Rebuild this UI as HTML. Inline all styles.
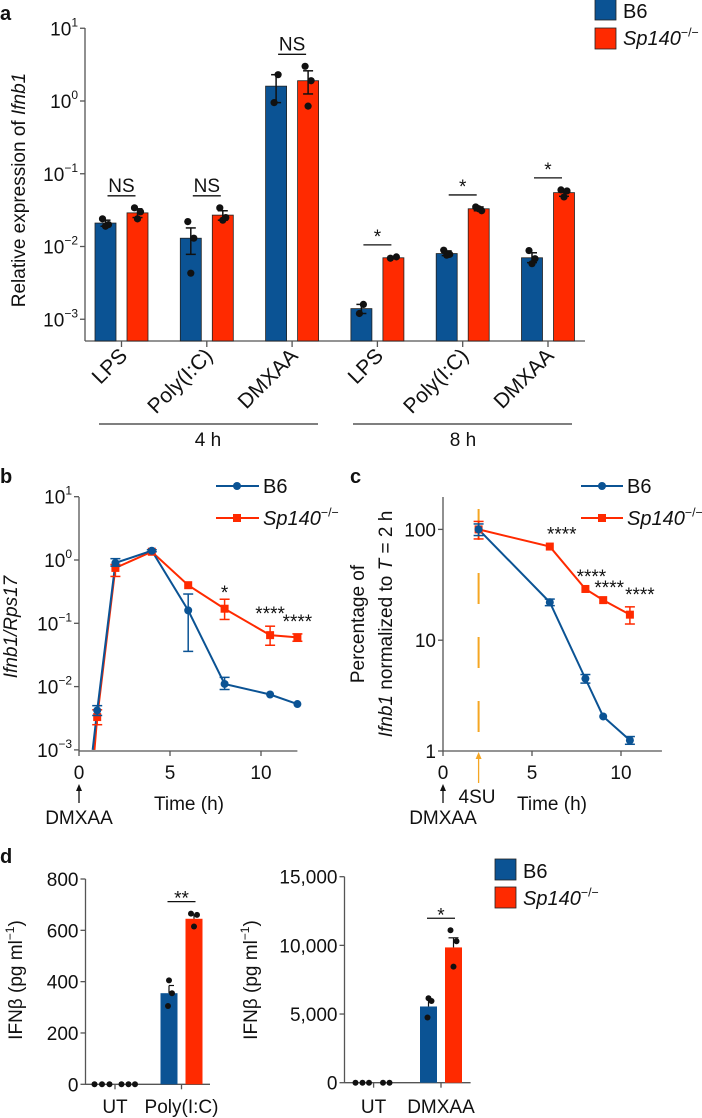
<!DOCTYPE html>
<html><head><meta charset="utf-8">
<style>
html,body{margin:0;padding:0;background:#fff;}
svg{display:block;font-family:"Liberation Sans",Arial,sans-serif;}
text{fill:#111;}
</style></head>
<body>
<svg id="fig" width="702" height="1118" viewBox="0 0 702 1118" xmlns="http://www.w3.org/2000/svg"></svg>
<script>
// ---------- Panel a data ----------
const aCategories = ["LPS","Poly(I:C)","DMXAA","LPS","Poly(I:C)","DMXAA"];
const aB6 = [0.021,0.013,1.6,0.0014,0.008,0.007];
const aSp = [0.029,0.027,1.9,0.007,0.033,0.055];
const aB6Err = [[0.019,0.023],[0.0078,0.018],[0.95,2.3],[0.0012,0.0016],[0.0075,0.0087],[0.006,0.0082]];
const aSpErr = [[0.025,0.033],[0.023,0.031],[1.25,2.6],[0.0068,0.0072],[0.031,0.035],[0.049,0.06]];
const aB6Pts = [[0.024,0.020,0.019],[0.022,0.013,0.0043],[2.3,0.95],[0.0016,0.0012],[0.0089,0.0078,0.0076],[0.0088,0.0068,0.0058]];
const aSpPts = [[0.034,0.030,0.024],[0.034,0.025,0.023],[3.0,1.9,0.85],[0.0069,0.0072],[0.035,0.031,0.033],[0.060,0.058,0.048]];
const aSig = ["NS","NS","NS","*","*","*"];
const aTickLabels = ["10","10","10","10","10"];
const aTickExp = [1,0,-1,-2,-3];
// ---------- Panel b data ----------
const bTimesB6 = [0.75,1,2,4,6,8,10.5,12];
const bB6 = [0.001,0.0042,0.9,1.4,0.16,0.011,0.0075,0.0053];
const bB6Lo = [null,0.0035,0.8,1.35,0.036,0.009,null,null];
const bB6Hi = [null,0.005,1.05,1.45,0.29,0.014,null,null];
const bTimesSp = [0.85,1,2,4,6,8,10.5,12];
const bSp = [0.001,0.0033,0.75,1.35,0.4,0.17,0.065,0.06];
const bSpLo = [null,0.0025,0.55,null,null,0.115,0.045,0.052];
const bSpHi = [null,0.0043,0.85,null,null,0.24,0.09,0.068];
const bStars = [[8,"*"],[10.5,"****"],[12,"****"]];
const bXTicks = [0,5,10];
// ---------- Panel c data ----------
const cTimes = [2,6,8,9,10.5];
const cB6 = [100,22,4.5,2.05,1.25];
const cB6Lo = [88,20.5,4.1,null,1.15];
const cB6Hi = [112,23.5,4.9,null,1.35];
const cSp = [100,70,29,23,17];
const cSpLo = [82,null,null,null,14];
const cSpHi = [118,null,null,null,20];
const cStars = ["****","****","****","****"];
const cYTicks = [1,10,100];
const cXTicks = [0,5,10];
// ---------- Panel d data ----------
const d1Cats = ["UT","Poly(I:C)"];
const d1B6 = [0,355];
const d1Sp = [0,645];
const d1B6Err = [0,30];
const d1SpErr = [0,15];
const d1B6Pts = [[0,0,0],[405,355,305]];
const d1SpPts = [[0,0,0],[665,660,615]];
const d1Ticks = [0,200,400,600,800];
const d2Cats = ["UT","DMXAA"];
const d2B6 = [0,5550];
const d2Sp = [0,9850];
const d2B6Err = [0,400];
const d2SpErr = [0,700];
const d2B6Pts = [[0,0,0],[6150,5950,4750]];
const d2SpPts = [[0,0],[11100,10300,8450]];
const d2Ticks = [0,5000,10000,15000];
const d2TickLabels = ["0","5,000","10,000","15,000"];

const BLUE="#0b5394", RED="#ff2a00", AX="#555", ORANGE="#f5a623";
const F=19;
const svg=document.getElementById('fig');
const NS='http://www.w3.org/2000/svg';
function el(tag,attrs,parent){const e=document.createElementNS(NS,tag);for(const k in attrs)e.setAttribute(k,attrs[k]);(parent||svg).appendChild(e);return e;}
function txt(x,y,s,attrs,parent){const e=el('text',Object.assign({x:x,y:y},attrs||{}),parent);e.textContent=s;return e;}
function line(x1,y1,x2,y2,stroke,w,parent){return el('line',{x1:x1,y1:y1,x2:x2,y2:y2,stroke:stroke,'stroke-width':w||1},parent);}
function errbar(g,x,y1,y2,color,cap){line(x,y1,x,y2,color,1.5,g);line(x-cap,y1,x+cap,y1,color,1.5,g);line(x-cap,y2,x+cap,y2,color,1.5,g);}
function spLabel(g,x,y,size,anchor){const t=el('text',{x:x,y:y,'font-size':size,'text-anchor':anchor||'start'},g);const a=el('tspan',{'font-style':'italic'},t);a.textContent='Sp140';const b=el('tspan',{'font-size':size*0.62,dy:-size*0.42},t);b.textContent='−/−';return t;}
function powLabel(g,x,y,e){const t=el('text',{x:x,y:y,'font-size':F,'text-anchor':'end'},g);
 const s=el('tspan',{},t);s.textContent='10';
 const p=el('tspan',{'font-size':12,dy:-9},t);p.textContent=(e<0?'−'+(-e):e);
 return t;}

// ================= Panel a =================
(function(){
const g=el('g',{});


const y0=101, dec=72.75;
const Y=v=>y0-Math.log10(v)*dec;
const axisBottom=341, axX=85, axR=585;
const cx=i=>121.5+i*85.3;
txt(0,20,'a',{'font-size':20,'font-weight':'bold'},g);
line(axX,28,axX,axisBottom,AX,1.3,g);
line(axX,axisBottom,axR,axisBottom,AX,1.3,g);
aTickExp.forEach((e,i)=>{const y=Y(Math.pow(10,e));line(axX-5,y,axX,y,AX,1.3,g);powLabel(g,axX-7,y+7,e);});
const yl=el('text',{transform:'translate(25,190) rotate(-90)','font-size':F,'text-anchor':'middle'},g);

let s1=el('tspan',{},yl);s1.textContent='Relative expression of ';let s2=el('tspan',{'font-style':'italic'},yl);s2.textContent='Ifnb1';
aCategories.forEach((c,i)=>{
 const x=cx(i);line(x,axisBottom,x,axisBottom+6,AX,1.3,g);
 const bx=x-16, rx=x+16, w=21;
 const b=el('rect',{x:bx-w/2,y:Y(aB6[i]),width:w,height:axisBottom-Y(aB6[i]),fill:BLUE,stroke:'#222','stroke-width':0.8},g);
 
 const r=el('rect',{x:rx-w/2,y:Y(aSp[i]),width:w,height:axisBottom-Y(aSp[i]),fill:RED,stroke:'#222','stroke-width':0.8},g);
 
 errbar(g,bx,Y(aB6Err[i][0]),Y(aB6Err[i][1]),'#111',5);
 errbar(g,rx,Y(aSpErr[i][0]),Y(aSpErr[i][1]),'#111',5);
 const offs=[-3,3,0];
 aB6Pts[i].forEach((v,j)=>el('circle',{cx:bx+(aB6Pts[i].length==2?(j?-2:2):offs[j]),cy:Y(v),r:3.6,fill:'#111'},g));
 aSpPts[i].forEach((v,j)=>el('circle',{cx:rx+(aSpPts[i].length==2?(j?3:-3):offs[j]),cy:Y(v),r:3.6,fill:'#111'},g));
 const top=Math.min(Y(aB6Err[i][1]),Y(aSpErr[i][1]),Y(Math.max(...aB6Pts[i])),Y(Math.max(...aSpPts[i])));
 const ly=top-12;
 line(x-14,ly,x+14,ly,'#111',1.3,g);
 if(aSig[i]==='NS') txt(x,ly-4,'NS',{'font-size':F,'text-anchor':'middle'},g);
 else txt(x,ly-2,'*',{'font-size':F,'text-anchor':'middle'},g);
 const lab=txt(x+7,357,c,{'font-size':21,'text-anchor':'end',transform:`rotate(-45 ${x+7} 357)`},g);
 
});
line(99,424,318,424,'#333',1.3,g);line(353,424,572,424,'#333',1.3,g);
txt(208,446,'4 h',{'font-size':F,'text-anchor':'middle'},g);
txt(463,446,'8 h',{'font-size':F,'text-anchor':'middle'},g);
const lg=el('g',{},g);
el('rect',{x:595,y:-1,width:21,height:21,fill:BLUE,stroke:'#222','stroke-width':0.8},lg);
el('rect',{x:595,y:28,width:21,height:21,fill:RED,stroke:'#222','stroke-width':0.8},lg);
txt(623,18,'B6',{'font-size':20},lg);
spLabel(lg,623,45,20);
})();

// ================= Panel b =================
(function(){
const g=el('g',{});


const y0=560, dec=63.3, x0=79, sx=18.2;
const Y=v=>y0-Math.log10(v)*dec, X=t=>x0+t*sx;
txt(0,483,'b',{'font-size':20,'font-weight':'bold'},g);
line(x0,497,x0,751,AX,1.3,g);line(x0,751,X(12),751,AX,1.3,g);
[1,0,-1,-2,-3].forEach(e=>{const y=Y(Math.pow(10,e));line(x0-5,y,x0,y,AX,1.3,g);powLabel(g,x0-7,y+7,e);});
bXTicks.forEach(t=>{line(X(t),751,X(t),756,AX,1.3,g);txt(X(t),779,String(t),{'font-size':F,'text-anchor':'middle'},g);});
const yl=el('text',{transform:'translate(17,627) rotate(-90)','font-size':F,'text-anchor':'middle','font-style':'italic'},g);
yl.textContent='Ifnb1/Rps17';
const pb=bTimesB6.map((t,i)=>X(t)+','+Y(bB6[i])).join(' ');
const ps=bTimesSp.map((t,i)=>X(t)+','+Y(bSp[i])).join(' ');
const l2=el('polyline',{points:ps,fill:'none',stroke:RED,'stroke-width':2},g);
const l1=el('polyline',{points:pb,fill:'none',stroke:BLUE,'stroke-width':2},g);
bTimesSp.forEach((t,i)=>{if(i===0)return;if(bSpLo[i]!=null)errbar(g,X(t),Y(bSpLo[i]),Y(bSpHi[i]),RED,5);el('rect',{x:X(t)-4,y:Y(bSp[i])-4,width:8,height:8,fill:RED},g);});
bTimesB6.forEach((t,i)=>{if(i===0)return;if(bB6Lo[i]!=null)errbar(g,X(t),Y(bB6Lo[i]),Y(bB6Hi[i]),BLUE,5);el('circle',{cx:X(t),cy:Y(bB6[i]),r:4,fill:BLUE},g);});
bStars.forEach(s=>{const i=bTimesSp.indexOf(s[0]);const hi=bSpHi[i]||bSp[i];txt(X(s[0]),Y(hi)-4+(s[1]==='*'?4:-2),s[1],{'font-size':F,'text-anchor':'middle'},g);});
const lg=el('g',{},g);
line(216,486,259,486,BLUE,2,lg);el('circle',{cx:237,cy:486,r:4,fill:BLUE},lg);txt(263,493,'B6',{'font-size':20},lg);
line(216,518,259,518,RED,2,lg);el('rect',{x:233,y:514,width:8,height:8,fill:RED},lg);spLabel(lg,263,525,20);
line(x0,803,x0,788,'#111',1.3,g);el('polygon',{points:`${x0-3},791 ${x0+3},791 ${x0},784`,fill:'#111'},g);
txt(x0,824,'DMXAA',{'font-size':F,'text-anchor':'middle'},g);
txt(189,810,'Time (h)',{'font-size':F,'text-anchor':'middle'},g);
})();

// ================= Panel c =================
(function(){
const g=el('g',{});


const y0=751, dec=110.8, x0=443, sx=17.8;
const Y=v=>y0-Math.log10(v)*dec, X=t=>x0+t*sx;
txt(350,483,'c',{'font-size':20,'font-weight':'bold'},g);
line(x0,497,x0,751,AX,1.3,g);line(x0,751,X(12.3),751,AX,1.3,g);
cYTicks.forEach(v=>{const y=Y(v);line(x0-5,y,x0,y,AX,1.3,g);txt(x0-7,y+7,String(v),{'font-size':F,'text-anchor':'end'},g);});
cXTicks.forEach(t=>{line(X(t),751,X(t),756,AX,1.3,g);txt(X(t),779,String(t),{'font-size':F,'text-anchor':'middle'},g);});
const yl=el('text',{transform:'translate(364,624) rotate(-90)','font-size':F,'text-anchor':'middle'},g);

yl.textContent='Percentage of';
const y2=el('text',{transform:'translate(392,624) rotate(-90)','font-size':F,'text-anchor':'middle'},g);
let a=el('tspan',{'font-style':'italic'},y2);a.textContent='Ifnb1';let b=el('tspan',{},y2);b.textContent=' normalized to ';let c=el('tspan',{'font-style':'italic'},y2);c.textContent='T';let d=el('tspan',{},y2);d.textContent=' = 2 h';
const dl=line(X(2),509,X(2),751,ORANGE,2,g);dl.setAttribute('stroke-dasharray','31 33');

line(X(2),755,X(2),783,ORANGE,1.3,g);el('polygon',{points:`${X(2)-3},759 ${X(2)+3},759 ${X(2)},752`,fill:ORANGE},g);
const ps=cTimes.map((t,i)=>X(t)+','+Y(cSp[i])).join(' ');
const pb=cTimes.map((t,i)=>X(t)+','+Y(cB6[i])).join(' ');
const l2=el('polyline',{points:ps,fill:'none',stroke:RED,'stroke-width':2},g);
const l1=el('polyline',{points:pb,fill:'none',stroke:BLUE,'stroke-width':2},g);
cTimes.forEach((t,i)=>{if(cSpLo[i]!=null)errbar(g,X(t),Y(cSpLo[i]),Y(cSpHi[i]),RED,5);el('rect',{x:X(t)-4,y:Y(cSp[i])-4,width:8,height:8,fill:RED},g);});
cTimes.forEach((t,i)=>{if(cB6Lo[i]!=null)errbar(g,X(t),Y(cB6Lo[i]),Y(cB6Hi[i]),BLUE,5);el('circle',{cx:X(t),cy:Y(cB6[i]),r:4,fill:BLUE},g);});
cStars.forEach((s,k)=>{const i=k+1;const hi=cSpHi[i]||cSp[i];txt(X(cTimes[i])+(i===1?12:i===4?10:6),Y(hi)-6,s,{'font-size':F,'text-anchor':'middle'},g);});
const lg=el('g',{},g);
line(581,486,623,486,BLUE,2,lg);el('circle',{cx:602,cy:486,r:4,fill:BLUE},lg);txt(627,493,'B6',{'font-size':20},lg);
line(581,518,623,518,RED,2,lg);el('rect',{x:598,y:514,width:8,height:8,fill:RED},lg);spLabel(lg,627,525,20);
line(x0,803,x0,788,'#111',1.3,g);el('polygon',{points:`${x0-3},791 ${x0+3},791 ${x0},784`,fill:'#111'},g);
txt(x0,824,'DMXAA',{'font-size':F,'text-anchor':'middle'},g);
txt(477,803,'4SU',{'font-size':F,'text-anchor':'middle'},g);
txt(552,810,'Time (h)',{'font-size':F,'text-anchor':'middle'},g);
})();

// ================= Panel d =================
function barPanel(name,axX,axR,yTop,yZero,maxV,ticks,tickLabels,cats,tickXs,b6,sp,b6e,spe,b6p,spp,sig,utB6X,utSpX,ylabX){
 const g=el('g',{});
 
 
 const Y=v=>yZero-v/maxV*(yZero-yTop);
 line(axX,yTop,axX,yZero,AX,1.3,g);line(axX,yZero,axR,yZero,AX,1.3,g);
 ticks.forEach((v,i)=>{const y=Y(v);line(axX-5,y,axX,y,AX,1.3,g);txt(axX-7,y+7,tickLabels[i],{'font-size':F,'text-anchor':'end'},g);});
 cats.forEach((c,i)=>{const x=tickXs[i];line(x,yZero,x,yZero+5,AX,1.3,g);txt(x,1113,c,{'font-size':F,'text-anchor':'middle'},g);});
 const yl=el('text',{transform:`translate(${ylabX},980) rotate(-90)`,'font-size':F,'text-anchor':'middle'},g);
 
 el('tspan',{},yl).textContent='IFNβ (pg ml';const sup=el('tspan',{'font-size':12,dy:-8},yl);sup.textContent='−1';const cl=el('tspan',{dy:8},yl);cl.textContent=')';
 b6p[0].forEach((v,j)=>el('circle',{cx:utB6X[j],cy:Y(v),r:3,fill:'#111'},g));
 spp[0].forEach((v,j)=>el('circle',{cx:utSpX[j],cy:Y(v),r:3,fill:'#111'},g));
 const x=tickXs[1], bx=x-12.5, rx=x+12.5, w=17;
 const b=el('rect',{x:bx-w/2,y:Y(b6[1]),width:w,height:yZero-Y(b6[1]),fill:BLUE},g);
 
 const r=el('rect',{x:rx-w/2,y:Y(sp[1]),width:w,height:yZero-Y(sp[1]),fill:RED},g);
 
 line(bx,Y(b6[1]),bx,Y(b6[1]+b6e[1]),'#111',1.2,g);line(bx,Y(b6[1]+b6e[1]),bx+5,Y(b6[1]+b6e[1]),'#111',1.2,g);
 line(rx,Y(sp[1]),rx,Y(sp[1]+spe[1]),'#111',1.2,g);line(rx-5,Y(sp[1]+spe[1]),rx+5,Y(sp[1]+spe[1]),'#111',1.2,g);
 b6p[1].forEach((v,j)=>el('circle',{cx:bx+[0,3,-1][j],cy:Y(v),r:3,fill:'#111'},g));
 spp[1].forEach((v,j)=>el('circle',{cx:rx+[-3,3,0][j],cy:Y(v),r:3,fill:'#111'},g));
 const top=Math.min(Y(Math.max(...spp[1])),Y(sp[1]+spe[1]));
 const ly=top-12;line(x-14,ly,x+14,ly,'#111',1.3,g);
 txt(x,ly+3,sig,{'font-size':F,'text-anchor':'middle'},g);
 return g;
}
txt(0,863,'d',{'font-size':20,'font-weight':'bold'});
barPanel('panel-d-left',85.5,210,879,1084.3,800,d1Ticks,d1Ticks.map(String),d1Cats,[115,181.5],d1B6,d1Sp,d1B6Err,d1SpErr,d1B6Pts,d1SpPts,'**',[94.5,102,109.5],[121.5,128.5,135],22);
barPanel('panel-d-right',344.5,470.6,876.7,1082.7,15000,d2Ticks,d2TickLabels,d2Cats,[373.6,441],d2B6,d2Sp,d2B6Err,d2SpErr,d2B6Pts,d2SpPts,'*',[355.5,362.5,369],[383,389.5],257);
(function(){const lg=el('g',{});
el('rect',{x:495,y:859,width:21,height:21,fill:BLUE,stroke:'#222','stroke-width':0.8},lg);
el('rect',{x:495,y:887,width:21,height:21,fill:RED,stroke:'#222','stroke-width':0.8},lg);
txt(523,878,'B6',{'font-size':20},lg);spLabel(lg,523,905,20);})();
</script>
</body></html>
